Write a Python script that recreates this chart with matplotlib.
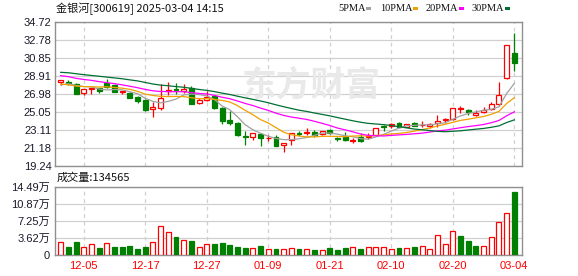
import numpy as np
import pandas as pd
import matplotlib
matplotlib.use("Agg")
import matplotlib.pyplot as plt
from matplotlib.patches import Rectangle

# ---------------- data ----------------
title = "金银河[300619] 2025-03-04 14:15"
dates = ["12-02", "12-03", "12-04", "12-05", "12-06", "12-09", "12-10", "12-11", "12-12", "12-13",
         "12-16", "12-17", "12-18", "12-19", "12-20", "12-23", "12-24", "12-25", "12-26", "12-27",
         "12-30", "12-31", "01-02", "01-03", "01-06", "01-07", "01-08", "01-09", "01-10", "01-13",
         "01-14", "01-15", "01-16", "01-17", "01-20", "01-21", "01-22", "01-23", "01-24", "01-27",
         "02-05", "02-06", "02-07", "02-10", "02-11", "02-12", "02-13", "02-14", "02-17", "02-18",
         "02-19", "02-20", "02-21", "02-24", "02-25", "02-26", "02-27", "02-28", "03-03", "03-04"]

opens = [28.30, 28.24, 28.05, 27.12, 27.50, 27.59, 28.13, 27.92, 27.18, 27.12,
         26.62, 26.37, 25.33, 25.44, 27.27, 27.52, 27.25, 27.59, 25.98, 26.30,
         26.75, 25.50, 24.18, 23.90, 22.46, 22.32, 22.68, 22.20, 22.35, 21.55,
         22.03, 22.80, 22.75, 22.93, 22.68, 23.10, 22.20, 22.32, 21.98, 22.39,
         22.40, 22.57, 23.50, 23.54, 23.90, 23.47, 23.83, 23.60, 23.55, 23.83,
         24.15, 24.26, 25.33, 25.29, 24.69, 25.08, 25.33, 25.87, 28.67, 31.42]
highs = [28.47, 28.45, 28.16, 27.48, 27.63, 27.62, 28.56, 28.02, 27.32, 27.15,
         26.77, 26.44, 26.10, 28.05, 28.30, 28.20, 28.10, 27.80, 26.60, 27.30,
         26.80, 25.55, 25.10, 24.00, 22.95, 22.80, 22.70, 22.57, 22.55, 21.72,
         22.80, 23.03, 23.29, 23.10, 23.00, 23.20, 22.39, 22.86, 22.28, 22.82,
         22.75, 23.35, 23.68, 23.85, 23.92, 23.80, 24.00, 24.08, 23.83, 24.72,
         24.43, 25.47, 25.69, 25.40, 25.26, 25.55, 26.15, 28.30, 32.25, 33.57]
lows = [27.95, 27.95, 27.00, 26.87, 27.00, 27.12, 27.65, 27.20, 26.95, 26.55,
        26.01, 25.19, 24.55, 25.26, 26.90, 26.98, 27.05, 25.90, 25.95, 26.25,
        25.40, 23.80, 23.65, 22.50, 21.50, 22.00, 21.40, 21.96, 21.35, 20.70,
        21.55, 22.50, 22.57, 22.40, 22.60, 22.70, 21.96, 21.95, 21.75, 21.79,
        22.10, 22.50, 23.03, 23.30, 23.45, 23.45, 23.50, 23.47, 23.29, 23.47,
        23.83, 24.20, 24.97, 24.69, 24.65, 24.97, 25.30, 25.70, 28.60, 29.45]
closes = [28.45, 28.17, 27.01, 27.48, 27.60, 27.30, 27.70, 27.23, 27.30, 26.58,
          26.23, 25.26, 25.55, 26.50, 27.41, 27.42, 27.55, 25.95, 26.30, 26.65,
          25.45, 24.10, 23.90, 22.55, 22.36, 22.75, 22.22, 22.30, 21.40, 21.70,
          22.75, 22.72, 22.93, 22.54, 23.00, 22.75, 22.10, 22.03, 22.06, 21.93,
          22.50, 23.32, 23.42, 23.80, 23.47, 23.79, 23.57, 23.70, 23.72, 24.11,
          24.33, 25.44, 25.50, 25.08, 24.94, 25.22, 25.90, 26.87, 32.22, 30.35]
# estimated closes of the 29 sessions before the window (feed the moving averages only)
prior_closes = [29.6, 30.1, 30.5, 30.2, 29.8, 30.4, 30.0, 29.9, 30.2, 29.6,
                30.3, 30.6, 29.9, 29.5, 30.1, 29.8, 29.4, 29.9, 29.6, 29.4,
                29.0, 28.4, 28.0, 27.7, 27.65, 27.5, 27.9, 28.1, 27.8]
volumes = [26900, 16260, 27600, 16260, 22600, 14850, 24700, 16970, 16970, 19100,
           12700, 16970, 26900, 60800, 48800, 38200, 31100, 29700, 16260, 22600,
           23300, 25450, 21200, 16970, 14850, 14100, 19100, 12000, 12700, 12000,
           15500, 12700, 12000, 10600, 9900, 14850, 10600, 14850, 16260, 12700,
           16260, 16260, 16260, 12000, 14850, 14100, 16970, 19100, 12000, 41700,
           23300, 50900, 40300, 29700, 19100, 19100, 37500, 70000, 89100, 134565]
vol_up = [1, 0, 0, 1, 1, 0, 1, 0, 0, 0,
          0, 0, 1, 1, 1, 0, 1, 0, 1, 1,
          0, 0, 0, 0, 0, 1, 0, 1, 0, 1,
          1, 0, 1, 0, 1, 0, 0, 0, 1, 0,
          1, 1, 1, 1, 0, 1, 0, 1, 1, 1,
          1, 1, 0, 0, 0, 1, 1, 1, 1, 0]
ma_periods = [5, 10, 20, 30]
ma_labels = ["5PMA", "10PMA", "20PMA", "30PMA"]
price_tick_labels = ["19.24", "21.18", "23.11", "25.05", "26.98", "28.91", "30.85", "32.78", "34.72"]
vol_tick_values = [0, 36225, 72450, 108675, 144900]
vol_tick_labels = ["0", "3.62万", "7.25万", "10.87万", "14.49万"]
vol_title = "成交量:134565"

# ---------------- style ----------------
RED = "#ff0000"
GREEN = "#008000"
MA_COLORS = ["#a0a0a0", "#f0a000", "#ff00ff", "#006f32"]
GRID = "#d0d0d0"
SPINE = "#909090"
CJK = ["Noto Sans CJK SC", "DejaVu Sans"]
LAT = ["Liberation Sans", "Noto Sans CJK SC"]

W, H = 578, 276
fig = plt.figure(figsize=(W / 100, H / 100), dpi=100)
L, R = 55, 522
ax = fig.add_axes([L / W, 1 - 166 / H, (R - L) / W, 144 / H])
axv = fig.add_axes([L / W, 1 - 255 / H, (R - L) / W, 68.3 / H])

n = len(closes)
x = np.arange(n)
all_c = pd.Series(prior_closes + closes)
k = len(prior_closes)

# candles
bw = 0.64
for i in range(n):
    o, h, l, c = opens[i], highs[i], lows[i], closes[i]
    up = c >= o
    col = RED if up else GREEN
    ax.vlines(i, l, h, color=col, lw=0.9, zorder=3)
    bottom = min(o, c)
    height = max(abs(c - o), 0.03)
    ax.add_patch(Rectangle((i - bw / 2, bottom), bw, height,
                           facecolor="white" if up else GREEN, edgecolor=col,
                           lw=0.9, zorder=4))

# moving averages
for p, colr in zip(ma_periods, MA_COLORS):
    ma = all_c.rolling(p).mean().values[k:]
    ax.plot(x, ma, color=colr, lw=0.9, zorder=5)

price_ticks = np.linspace(19.24, 34.72, len(price_tick_labels))
ax.set_ylim(19.24, 34.72)
ax.set_xlim(-0.74, 60.0)
ax.set_yticks(price_ticks)
ax.set_yticklabels(price_tick_labels)
tick_idx = list(range(3, n, 8))
ax.set_xticks(tick_idx)
ax.tick_params(axis="x", length=0, labelbottom=False)
ax.tick_params(axis="y", length=0, pad=2.5, labelsize=8, labelcolor="#1a1a2a")
for t in ax.get_yticklabels():
    t.set_family(LAT)
ax.yaxis.grid(True, color=GRID, lw=0.9, ls="-")
ax.xaxis.grid(True, color=GRID, lw=0.9, ls=(0, (3, 3)))
ax.set_axisbelow(True)
for s in ax.spines.values():
    s.set_color(SPINE)
    s.set_linewidth(1.0)

# watermark
ax.text(0.55, 0.56, "东方财富", transform=ax.transAxes, ha="center", va="center",
        fontsize=25, fontweight="bold", color="#e9e9e9", family=CJK, zorder=1,
        style="italic")

# volume
faces = ["white" if u else GREEN for u in vol_up]
edges = [RED if u else GREEN for u in vol_up]
axv.bar(x, volumes, width=bw, color=faces, edgecolor=edges, lw=0.9, zorder=3)
axv.set_xlim(-0.74, 60.0)
axv.set_ylim(0, 144900)
axv.set_yticks(vol_tick_values)
axv.set_yticklabels(vol_tick_labels)
axv.set_xticks(tick_idx)
axv.set_xticklabels([dates[i] for i in tick_idx])
axv.tick_params(axis="x", length=0, pad=4, labelsize=8, labelcolor=RED)
axv.tick_params(axis="y", length=0, pad=3.5, labelsize=8, labelcolor="#1a1a2a")
for t in axv.get_yticklabels() + axv.get_xticklabels():
    t.set_family(LAT)
axv.yaxis.grid(True, color=GRID, lw=0.9, ls="-")
axv.xaxis.grid(True, color=GRID, lw=0.9, ls=(0, (3, 3)))
axv.set_axisbelow(True)
for s in axv.spines.values():
    s.set_color(SPINE)
    s.set_linewidth(1.0)

# texts
fig.text(56 / W, 1 - 8.5 / H, title, ha="left", va="center", fontsize=8, family=CJK, color="#111111")
fig.text(57 / W, 1 - 177.5 / H, vol_title, ha="left", va="center", fontsize=8, family=CJK, color="#111111")

# legend
leg_x = [338, 380, 426, 472]
sq_x = [366, 413, 459, 505]
for lab, colr, lx, sx in zip(ma_labels, MA_COLORS, leg_x, sq_x):
    fig.text(lx / W, 1 - 8.5 / H, lab, ha="left", va="center", fontsize=7.5,
             family=["Liberation Serif", "DejaVu Serif"], color="#111111")
    fig.add_artist(Rectangle((sx / W, 1 - 10 / H), 5 / W, 3 / H, transform=fig.transFigure,
                             facecolor=colr, edgecolor="none"))

fig.savefig("out.png", dpi=100)
